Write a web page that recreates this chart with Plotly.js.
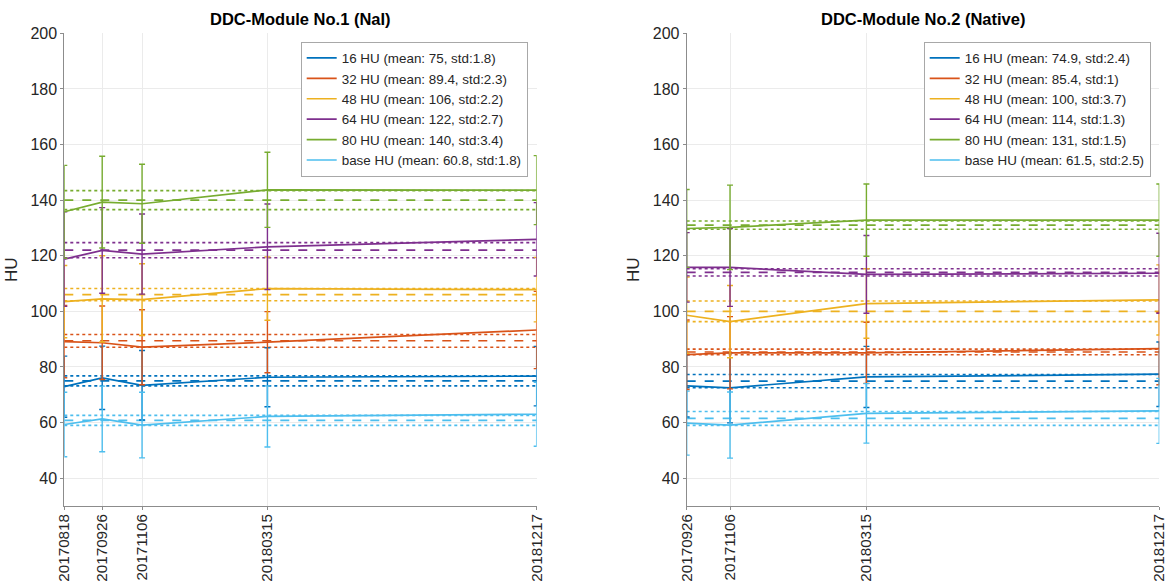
<!DOCTYPE html>
<html>
<head>
<meta charset="utf-8">
<script src="https://cdn.plot.ly/plotly-3.0.1.min.js"></script>
<style>html,body{margin:0;padding:0;background:#fff;}#chart{width:1171px;height:583px;}</style>
</head>
<body>
<div id="chart"></div>
<script>
// ---------- data ----------
const seriesNames = ['16 HU', '32 HU', '48 HU', '64 HU', '80 HU', 'base HU'];
const colors = ['#0072BD', '#D95319', '#EDB120', '#7E2F8E', '#77AC30', '#4DBEEE'];

// Module 1 (NaI)
const datesM1 = ['2017-08-18', '2017-09-26', '2017-11-06', '2018-03-15', '2018-12-17'];
const tickTextM1 = ['20170818', '20170926', '20171106', '20180315', '20181217'];
const valuesM1 = [
  [72.9, 76.1, 73.4, 76.3, 76.7],
  [89.1, 88.7, 87.1, 88.9, 93.3],
  [103.5, 104.5, 104.2, 108.2, 107.8],
  [118.8, 121.9, 120.6, 123.2, 125.9],
  [135.8, 139.3, 138.7, 143.7, 143.6],
  [59.3, 61.3, 59.1, 62.2, 63.0]
];
const errorsM1 = [
  [11.0, 11.4, 12.5, 10.6, 10.7],
  [13.0, 13.2, 13.5, 11.0, 13.9],
  [13.0, 15.5, 12.9, 11.4, 11.6],
  [17.0, 15.4, 14.4, 15.4, 13.2],
  [16.7, 16.5, 14.2, 13.5, 12.4],
  [11.6, 11.8, 11.8, 11.0, 11.5]
];
const meansM1 = [75, 89.4, 106, 122, 140, 60.8];
const stdsM1 = [1.8, 2.3, 2.2, 2.7, 3.4, 1.8];

// Module 2 (Native)
const datesM2 = ['2017-09-26', '2017-11-06', '2018-03-15', '2018-12-17'];
const tickTextM2 = ['20170926', '20171106', '20180315', '20181217'];
const valuesM2 = [
  [73.2, 72.5, 76.4, 77.4],
  [84.4, 85.1, 85.1, 86.6],
  [98.6, 96.3, 102.8, 104.1],
  [115.8, 115.8, 113.3, 113.7],
  [129.8, 130.2, 132.8, 132.8],
  [59.8, 59.1, 63.3, 64.2]
];
const errorsM2 = [
  [11.2, 12.6, 11.0, 11.6],
  [12.5, 13.0, 11.0, 13.0],
  [13.7, 13.0, 12.5, 12.6],
  [12.5, 14.0, 14.0, 14.4],
  [14.0, 15.2, 13.0, 13.0],
  [11.5, 11.9, 10.7, 11.7]
];
const meansM2 = [74.9, 85.4, 100, 114, 131, 61.5];
const stdsM2 = [2.4, 1.0, 3.7, 1.3, 1.5, 2.5];

const titles = ['DDC-Module No.1 (NaI)', 'DDC-Module No.2 (Native)'];
const yTicks = [40, 60, 80, 100, 120, 140, 160, 180, 200];

// ---------- traces ----------
const traces = [];
function addModule(dates, values, errors, means, stds, xa, ya, legendName) {
  const first = dates[0], last = dates[dates.length - 1];
  for (let i = 0; i < seriesNames.length; i++) {
    const c = colors[i];
    traces.push({x: [first, last], y: [means[i], means[i]], xaxis: xa, yaxis: ya, mode: 'lines',
      line: {color: c, width: 1.6, dash: 'dash'}, showlegend: false, hoverinfo: 'skip', legend: legendName});
    traces.push({x: [first, last], y: [means[i] + stds[i], means[i] + stds[i]], xaxis: xa, yaxis: ya, mode: 'lines',
      line: {color: c, width: 1.6, dash: 'dot'}, showlegend: false, hoverinfo: 'skip', legend: legendName});
    traces.push({x: [first, last], y: [means[i] - stds[i], means[i] - stds[i]], xaxis: xa, yaxis: ya, mode: 'lines',
      line: {color: c, width: 1.6, dash: 'dot'}, showlegend: false, hoverinfo: 'skip', legend: legendName});
  }
  for (let i = 0; i < seriesNames.length; i++) {
    const c = colors[i];
    traces.push({
      x: dates, y: values[i], xaxis: xa, yaxis: ya, mode: 'lines',
      name: seriesNames[i] + ' (mean: ' + means[i] + ', std:' + stds[i] + ')',
      line: {color: c, width: 1.7},
      error_y: {type: 'data', array: errors[i], visible: true, color: c, thickness: 1.4, width: 3},
      legend: legendName
    });
  }
}
addModule(datesM1, valuesM1, errorsM1, meansM1, stdsM1, 'x', 'y', 'legend');
addModule(datesM2, valuesM2, errorsM2, meansM2, stdsM2, 'x2', 'y2', 'legend2');

// ---------- layout ----------
const FAMILY = 'Liberation Sans, Arial, sans-serif';
const tickFont = {family: FAMILY, size: 16, color: '#262626'};
const xTickFont = {family: FAMILY, size: 15.2, color: '#262626'};
function xAxis(dates, ticktext, domain, anchor) {
  return {
    type: 'date', domain: domain, anchor: anchor,
    range: [dates[0], dates[dates.length - 1]],
    tickmode: 'array', tickvals: dates, ticktext: ticktext, tickangle: -90,
    tickfont: xTickFont, showgrid: true, gridcolor: '#ebebeb', gridwidth: 1,
    showline: true, linecolor: '#8c8c8c', linewidth: 1,
    ticks: 'outside', ticklen: 3, tickcolor: '#8c8c8c', zeroline: false, automargin: false,
    ticklabelstandoff: -2
  };
}
function yAxis(domain, anchor) {
  return {
    domain: domain, anchor: anchor, range: [30, 200],
    tickmode: 'array', tickvals: yTicks, tickfont: tickFont,
    showgrid: true, gridcolor: '#ebebeb', gridwidth: 1,
    showline: true, linecolor: '#8c8c8c', linewidth: 1,
    ticks: 'outside', ticklen: 3, tickcolor: '#8c8c8c', zeroline: false, automargin: false,
    title: {text: 'HU', font: {family: FAMILY, size: 17, color: '#262626'}, standoff: 8}
  };
}
const yDom = [0.1321, 0.9429];
const legendFont = {family: FAMILY, size: 13.4, color: '#262626'};
const layout = {
  width: 1171, height: 583,
  margin: {l: 0, r: 0, t: 0, b: 0},
  paper_bgcolor: '#ffffff', plot_bgcolor: '#ffffff',
  showlegend: true,
  xaxis: xAxis(datesM1, tickTextM1, [0.0549, 0.4583], 'y'),
  yaxis: yAxis(yDom, 'x'),
  xaxis2: xAxis(datesM2, tickTextM2, [0.5864, 0.99], 'y2'),
  yaxis2: yAxis(yDom, 'x2'),
  legend: {x: 527.7 / 1171, xanchor: 'right', y: (583 - 41.7) / 583, yanchor: 'top',
    bgcolor: '#ffffff', bordercolor: '#a8a8a8', borderwidth: 1, font: legendFont, tracegroupgap: 0},
  legend2: {x: 1150.7 / 1171, xanchor: 'right', y: (583 - 41.7) / 583, yanchor: 'top',
    bgcolor: '#ffffff', bordercolor: '#a8a8a8', borderwidth: 1, font: legendFont, tracegroupgap: 0},
  annotations: [
    {text: '<b>' + titles[0] + '</b>', xref: 'paper', yref: 'paper', x: (64.3 + 536.7) / 2 / 1171, y: (583 - 19) / 583,
      xanchor: 'center', yanchor: 'middle', showarrow: false,
      font: {family: FAMILY, size: 16.5, color: '#000'}},
    {text: '<b>' + titles[1] + '</b>', xref: 'paper', yref: 'paper', x: (686.7 + 1159.3) / 2 / 1171, y: (583 - 19) / 583,
      xanchor: 'center', yanchor: 'middle', showarrow: false,
      font: {family: FAMILY, size: 16.5, color: '#000'}}
  ]
};
Plotly.newPlot('chart', traces, layout, {displayModeBar: false, staticPlot: true});
</script>
</body>
</html>
